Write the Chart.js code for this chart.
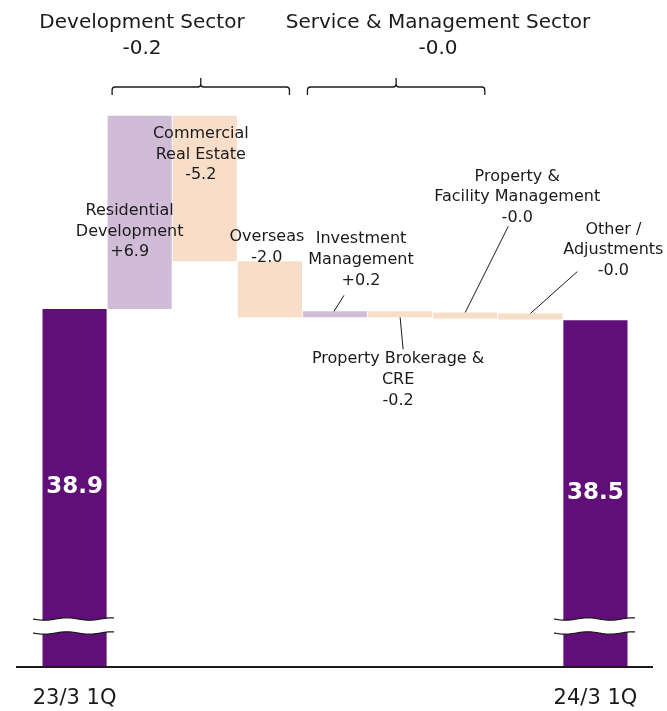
<!DOCTYPE html>
<html><head><meta charset="utf-8">
<script src="https://cdn.jsdelivr.net/npm/chart.js@4"></script>
<style>html,body{margin:0;padding:0;background:#fff}#wrap{width:667px;height:711px}</style>
</head><body><div id="wrap"><canvas id="c" width="667" height="711"></canvas></div>
<script>
// ---- data ----
const categories = ['23/3 1Q','Residential Development','Commercial Real Estate','Overseas','Investment Management','Property Brokerage & CRE','Property & Facility Management','Other / Adjustments','24/3 1Q'];
const tickLabels = ['23/3 1Q','','','','','','','','24/3 1Q'];
const startValue = 38.9;
const changes = [6.9, -5.2, -2.0, 0.2, -0.2, -0.04, -0.04];
const endValue = 38.5;
const labelLines = [null, ['Residential','Development'], ['Commercial','Real Estate'], ['Overseas'], ['Investment','Management'], ['Property Brokerage &','CRE'], ['Property &','Facility Management'], ['Other /','Adjustments'], null];
const sectorNames = ['Development Sector', 'Service & Management Sector'];
const sectorValues = [-0.2, -0.04];
const sectorRanges = [[1,3],[4,6]];

// ---- styles ----
const FONT = 'DejaVu Sans';
const COL_TOTAL = '#600e78', COL_UP = '#d1bcd8', COL_DOWN = '#f8ddc8', TXT = '#1a1a1a';
const labelStyle = {
  1:{dx:-10, ref:'top', dy:95},
  2:{dx:-4, ref:'top', dy:18},
  3:{dx:-3, ref:'top', dy:-24},
  4:{dx:26, ref:'top', dy:-72, leader:[-1,0,9,-16]},
  5:{dx:-2, ref:'bottom', dy:42, leader:[0,0,3,32]},
  6:{dx:52, ref:'top', dy:-136, leader:[0,0,43,-86]},
  7:{dx:83, ref:'top', dy:-84, leader:[0,0,47,-42]}
};
const headerX = [142, 438];
const fmt = v => (v > 0 ? '+' : '-') + Math.abs(v).toFixed(1);

const barData = [startValue];
let run = startValue;
changes.forEach(c => { barData.push([run, run + c]); run += c; });
barData.push(endValue);
const colors = barData.map((d, i) => (i === 0 || i === barData.length - 1) ? COL_TOTAL : (changes[i-1] > 0 ? COL_UP : COL_DOWN));

function wave(ctx, x0, x1, y, phase) {
  for (let x = x0; x <= x1; x += 1) {
    const yy = y + 1.2 * Math.sin((x - x0) / 45 * 2 * Math.PI + phase);
    if (x === x0) ctx.moveTo(x, yy); else ctx.lineTo(x, yy);
  }
}

const annot = {
  id: 'annot',
  afterDatasetsDraw(chart) {
    const ctx = chart.ctx, ca = chart.chartArea, xs = chart.scales.x;
    const bars = chart.getDatasetMeta(0).data.map(b => b.getProps(['x','y','base','width'], true));
    ctx.save();
    // baseline
    ctx.strokeStyle = '#1a1a1a'; ctx.lineWidth = 2;
    ctx.beginPath(); ctx.moveTo(ca.left - 26, ca.bottom + 1); ctx.lineTo(ca.right + 25, ca.bottom + 1); ctx.stroke();
    // break marks on totals
    [0, bars.length - 1].forEach(i => {
      const b = bars[i];
      const x0 = Math.round(b.x - b.width / 2 - 9), x1 = Math.round(b.x + b.width / 2 + 7);
      const yA = ca.bottom - 47, yB = ca.bottom - 33;
      ctx.beginPath();
      wave(ctx, x0, x1, yA, 0);
      for (let x = x1; x >= x0; x -= 1) ctx.lineTo(x, yB + 1.2 * Math.sin((x - x0) / 45 * 2 * Math.PI));
      ctx.closePath(); ctx.fillStyle = '#fff'; ctx.fill();
      ctx.strokeStyle = '#1a1a1a'; ctx.lineWidth = 1.2;
      ctx.beginPath(); wave(ctx, x0, x1, yA, 0); ctx.stroke();
      ctx.beginPath(); wave(ctx, x0, x1, yB, 0); ctx.stroke();
      // value label
      const top = Math.min(b.y, b.base), bot = ca.bottom;
      ctx.fillStyle = '#fff'; ctx.font = 'bold 23px "' + FONT + '"';
      ctx.textAlign = 'center'; ctx.textBaseline = 'middle';
      ctx.fillText(i === 0 ? startValue.toFixed(1) : endValue.toFixed(1), b.x, (top + bot) / 2);
    });
    // change labels
    ctx.fillStyle = TXT; ctx.font = '16px "' + FONT + '"';
    ctx.textAlign = 'center'; ctx.textBaseline = 'middle';
    for (let i = 1; i <= changes.length; i++) {
      const b = bars[i], st = labelStyle[i];
      const top = Math.min(b.y, b.base), bot = Math.max(b.y, b.base);
      const ref = st.ref === 'top' ? top : bot;
      const lines = labelLines[i].concat([fmt(changes[i-1])]);
      lines.forEach((t, k) => ctx.fillText(t, b.x + st.dx, ref + st.dy + k * 20.7));
      if (st.leader) {
        const L = st.leader;
        ctx.strokeStyle = '#1a1a1a'; ctx.lineWidth = 1;
        ctx.beginPath(); ctx.moveTo(b.x + L[0], ref + L[1]); ctx.lineTo(b.x + L[2], ref + L[3]); ctx.stroke();
      }
    }
    // sector headers and braces
    const half = (xs.getPixelForValue(1) - xs.getPixelForValue(0)) / 2;
    sectorNames.forEach((name, s) => {
      ctx.fillStyle = TXT; ctx.font = '20px "' + FONT + '"';
      ctx.textAlign = 'center'; ctx.textBaseline = 'middle';
      ctx.fillText(name, headerX[s], 23);
      ctx.fillText(fmt(sectorValues[s]), headerX[s], 49);
      const x0 = xs.getPixelForValue(sectorRanges[s][0]) - half + 5;
      const x1 = xs.getPixelForValue(sectorRanges[s][1]) + half - 13;
      const xm = (x0 + x1) / 2, y = 87;
      ctx.strokeStyle = '#1a1a1a'; ctx.lineWidth = 1.3;
      ctx.beginPath();
      ctx.moveTo(x0, 95); ctx.lineTo(x0, 90); ctx.quadraticCurveTo(x0, y, x0 + 3, y);
      ctx.lineTo(xm - 3, y); ctx.quadraticCurveTo(xm, y, xm, y - 3); ctx.lineTo(xm, 78);
      ctx.moveTo(xm, y - 3); ctx.quadraticCurveTo(xm, y, xm + 3, y);
      ctx.lineTo(x1 - 3, y); ctx.quadraticCurveTo(x1, y, x1, 90); ctx.lineTo(x1, 95);
      ctx.stroke();
    });
    ctx.restore();
  }
};

new Chart(document.getElementById('c'), {
  type: 'bar',
  data: { labels: categories, datasets: [{ data: barData, backgroundColor: colors, borderWidth: 0, barPercentage: 0.985, categoryPercentage: 1, minBarLength: 6 }] },
  options: {
    responsive: false, animation: false,
    layout: { padding: { top: 100, left: 42, right: 39, bottom: 0 } },
    plugins: { legend: { display: false }, tooltip: { enabled: false } },
    scales: {
      y: { display: false, min: 26.15, max: 46.36 },
      x: {
        grid: { display: false }, border: { display: false },
        ticks: { autoSkip: false, maxRotation: 0, padding: 12, color: TXT, font: { family: FONT, size: 21 }, callback: (v, i) => tickLabels[i] },
        afterFit: s => { s.height = 45; }
      }
    }
  },
  plugins: [annot]
});
</script>
</body></html>
